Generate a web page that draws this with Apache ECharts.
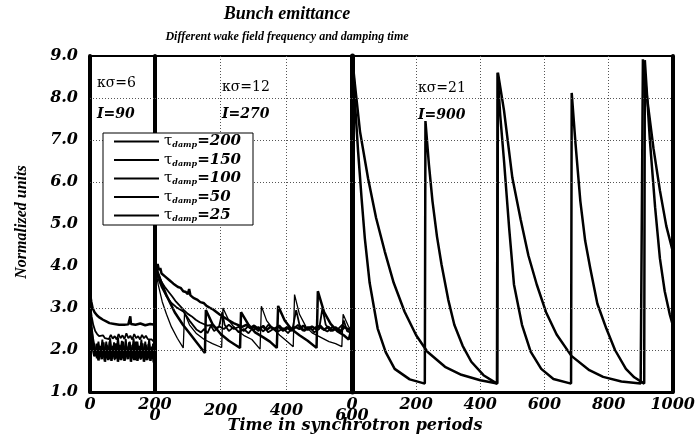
<!DOCTYPE html>
<html><head><meta charset="utf-8">
<script src="https://cdn.jsdelivr.net/npm/echarts@6/dist/echarts.min.js"></script>
<style>html,body{margin:0;padding:0;background:#fff}#c{width:698px;height:441px}</style>
</head><body><div id="c"></div>
<script>
// ---- data ----
const tauNames = ['200', '150', '100', '50', '25'];
const panelMax = [200, 600, 1000];
const panelTicks = [200, 200, 200];
const gridValues = [2, 3, 6, 7, 8];

// Panel 1: kσ=6, I=90
const p1_200 = [[0,3.35],[4,3.15],[8,3.0],[14,2.9],[22,2.82],[30,2.77],[40,2.72],[50,2.68],[60,2.64],[75,2.62],[90,2.6],[105,2.6],[118,2.61],[122,2.63],[124,2.8],[126,2.62],[140,2.6],[155,2.63],[170,2.59],[185,2.62],[200,2.6]];
const p1_150 = [[0,3.1],[5,2.8],[10,2.6],[16,2.45],[22,2.38],[28,2.33],[34,2.3],[40,2.35],[46,2.28],[52,2.32],[58,2.26],[64,2.36],[70,2.27],[76,2.33],[82,2.25],[88,2.38],[94,2.28],[100,2.35],[106,2.26],[112,2.4],[118,2.28],[124,2.34],[130,2.25],[136,2.38],[142,2.28],[148,2.33],[154,2.25],[160,2.36],[166,2.28],[172,2.34],[178,2.26],[184,2.3],[190,2.25],[196,2.2],[200,2.15]];
const p1_100 = [[0,3.05],[5,2.55],[10,2.25],[15,2.05],[20,1.9],[26,2.2],[32,1.85],[38,2.25],[44,1.82],[50,2.2],[56,1.8],[62,2.28],[68,1.84],[74,2.18],[80,1.8],[86,2.3],[92,1.85],[98,2.22],[104,1.8],[110,2.26],[116,1.83],[122,2.2],[128,1.8],[134,2.28],[140,1.85],[146,2.2],[152,1.82],[158,2.25],[164,1.8],[170,2.2],[176,1.84],[182,2.26],[188,1.8],[194,2.15],[200,1.75]];
const p1_50 = [[0,2.95],[4,2.5],[8,2.2],[12,2.0],[16,1.85],[21,2.15],[26,1.75],[31,2.1],[36,1.78],[41,2.18],[46,1.72],[51,2.12],[56,1.76],[61,2.2],[66,1.74],[71,2.1],[76,1.78],[81,2.16],[86,1.72],[91,2.12],[96,1.76],[101,2.2],[106,1.74],[111,2.1],[116,1.78],[121,2.18],[126,1.72],[131,2.12],[136,1.76],[141,2.2],[146,1.74],[151,2.1],[156,1.78],[161,2.16],[166,1.72],[171,2.12],[176,1.76],[181,2.14],[186,1.74],[191,2.08],[196,1.72],[200,1.68]];
const p1_25 = [[0,2.9],[3,2.45],[6,2.15],[9,1.95],[12,1.85],[16,2.05],[20,1.8],[24,2.08],[28,1.78],[32,2.02],[36,1.8],[40,2.1],[44,1.76],[48,2.04],[52,1.8],[56,2.08],[60,1.78],[64,2.02],[68,1.8],[72,2.1],[76,1.76],[80,2.05],[84,1.79],[88,2.08],[92,1.77],[96,2.03],[100,1.8],[104,2.1],[108,1.76],[112,2.04],[116,1.8],[120,2.08],[124,1.78],[128,2.02],[132,1.8],[136,2.1],[140,1.76],[144,2.05],[148,1.79],[152,2.08],[156,1.77],[160,2.03],[164,1.8],[168,2.1],[172,1.76],[176,2.04],[180,1.8],[184,2.06],[188,1.78],[192,2.0],[196,1.75],[200,1.7]];

// Panel 2: kσ=12, I=270
const p2_200 = [[0,4.1],[4,3.95],[8,4.05],[12,3.9],[16,3.95],[20,3.82],[26,3.85],[32,3.74],[38,3.76],[44,3.66],[50,3.64],[56,3.58],[62,3.6],[70,3.5],[78,3.48],[86,3.4],[94,3.38],[100,3.33],[104,3.45],[108,3.3],[117,3.24],[128,3.2],[138,3.14],[148,3.12],[157,3.05],[168,3.0],[178,2.96],[188,2.9],[198,2.84],[210,2.78],[222,2.72],[239,2.64],[252,2.6],[265,2.55],[278,2.6],[290,2.52],[302,2.58],[315,2.5],[328,2.56],[340,2.48],[352,2.55],[365,2.5],[378,2.58],[390,2.48],[402,2.54],[415,2.46],[428,2.55],[440,2.5],[452,2.58],[465,2.48],[478,2.56],[490,2.5],[503,2.58],[515,2.48],[528,2.55],[540,2.46],[553,2.52],[565,2.45],[578,2.55],[590,2.48],[600,2.5]];
const p2_150 = [[0,4.05],[6,3.85],[12,3.78],[20,3.62],[30,3.5],[40,3.4],[52,3.28],[64,3.15],[76,3.05],[88,2.95],[100,2.86],[112,2.8],[124,2.72],[136,2.66],[148,2.62],[160,2.58],[172,2.6],[184,2.52],[196,2.56],[210,2.5],[225,2.6],[240,2.5],[255,2.55],[270,2.45],[285,2.58],[300,2.48],[315,2.55],[330,2.44],[345,2.6],[360,2.5],[375,2.56],[390,2.45],[405,2.52],[420,2.48],[435,2.6],[450,2.46],[465,2.55],[480,2.48],[495,2.58],[510,2.5],[525,2.44],[540,2.55],[555,2.48],[570,2.6],[585,2.5],[600,2.52]];
const p2_100 = [[0,4.0],[10,3.7],[20,3.5],[35,3.28],[50,3.12],[65,3.02],[86,2.92],[105,2.7],[127,2.48],[140,2.42],[150,2.5],[160,2.4],[170,2.58],[180,2.45],[195,2.55],[205,2.9],[212,2.6],[225,2.45],[240,2.55],[255,2.42],[270,2.5],[285,2.4],[300,2.55],[315,2.45],[330,2.58],[345,2.42],[360,2.5],[375,2.44],[390,2.52],[405,2.4],[420,2.55],[430,2.95],[440,2.6],[455,2.45],[470,2.55],[485,2.42],[500,2.5],[510,3.0],[520,2.6],[535,2.45],[550,2.55],[565,2.4],[575,2.7],[585,2.45],[600,2.4]];
const p2_50 = [[0,4.05],[15,3.7],[35,3.3],[60,2.9],[85,2.6],[110,2.35],[130,2.15],[152,1.93],[155,2.95],[175,2.62],[200,2.38],[225,2.22],[245,2.12],[259,2.05],[262,2.9],[285,2.6],[305,2.42],[330,2.3],[350,2.2],[371,2.05],[375,3.05],[395,2.7],[415,2.5],[440,2.35],[465,2.22],[492,2.05],[496,3.4],[515,2.9],[535,2.62],[555,2.45],[575,2.35],[590,2.25],[600,2.55]];
const p2_25 = [[0,4.0],[10,3.55],[22,3.15],[35,2.85],[50,2.55],[68,2.28],[86,2.05],[90,2.88],[105,2.6],[125,2.4],[150,2.25],[175,2.15],[203,2.06],[207,3.0],[225,2.7],[245,2.5],[270,2.35],[295,2.25],[320,2.02],[324,3.04],[340,2.7],[360,2.5],[380,2.35],[400,2.22],[421,2.08],[425,3.32],[440,2.85],[460,2.55],[480,2.4],[505,2.3],[530,2.2],[550,2.15],[569,2.08],[573,2.85],[590,2.55],[600,2.45]];

// Panel 3: kσ=21, I=900
const p3_200 = [[0,9.0],[9,8.33],[25,7.2],[50,6.09],[75,5.15],[102,4.35],[130,3.6],[164,2.91],[200,2.35],[235,1.96],[290,1.6],[341,1.41],[400,1.28],[453,1.2],[455,8.6],[474,7.7],[500,6.1],[526,5.1],[550,4.25],[576,3.56],[605,2.9],[638,2.37],[684,1.86],[740,1.52],[783,1.36],[840,1.25],[900,1.2],[907,8.92],[920,8.0],[940,6.8],[960,5.8],[980,4.95],[1000,4.35]];
const p3_50 = [[0,9.0],[3,8.88],[10,7.8],[19,6.73],[30,5.6],[40,4.66],[55,3.6],[80,2.51],[105,1.95],[133,1.55],[180,1.3],[227,1.2],[229,7.45],[240,6.4],[251,5.54],[265,4.7],[279,4.04],[300,3.2],[319,2.6],[345,2.1],[372,1.72],[410,1.4],[452,1.2],[454,8.6],[462,7.6],[474,6.5],[490,4.9],[505,3.56],[530,2.6],[557,1.96],[590,1.55],[628,1.31],[683,1.2],[685,8.12],[697,6.9],[712,5.54],[727,4.6],[743,3.94],[765,3.1],[793,2.51],[820,2.0],[854,1.55],[880,1.35],[911,1.2],[913,8.9],[929,6.97],[945,5.4],[960,4.18],[975,3.4],[991,2.84],[1000,2.6]];

const panelData = [
  {'200': p1_200, '150': p1_150, '100': p1_100, '50': p1_50, '25': p1_25},
  {'200': p2_200, '150': p2_150, '100': p2_100, '50': p2_50, '25': p2_25},
  {'200': p3_200, '50': p3_50}
];

// ---- styles ----
const lineWidths = {'200': 2.5, '150': 1.8, '100': 1.8, '50': 2.5, '25': 1.3};
const numFont = '"DejaVu Serif"';
const gridPos = [
  {left: 90, width: 65},
  {left: 155, width: 197},
  {left: 352, width: 323}
];
const TOP = 56, HEIGHT = 336;

const grids = gridPos.map(g => ({left: g.left, width: g.width, top: TOP, height: HEIGHT,
  show: true, borderColor: '#000', borderWidth: 2, backgroundColor: 'transparent'}));

const xAxes = panelMax.map((mx, i) => ({
  type: 'value', gridIndex: i, min: 0, max: mx, interval: panelTicks[i],
  axisLine: {show: true, onZero: false, lineStyle: {color: '#000', width: 3}},
  axisTick: {show: false},
  splitLine: {show: true, lineStyle: {color: '#555', type: [1, 2], width: 1}},
  axisLabel: i === 1 ? {
    margin: 11,
    formatter: v => (v === 0 || v === 600) ? '{low|' + v + '}' : '{mid|' + v + '}',
    rich: {
      low: {fontFamily: numFont, fontWeight: 'bold', fontStyle: 'italic', fontSize: 16, color: '#000', padding: [5, 0, 0, 0]},
      mid: {fontFamily: numFont, fontWeight: 'bold', fontStyle: 'italic', fontSize: 16, color: '#000'}
    }
  } : {
    margin: 5, color: '#000', fontFamily: numFont, fontWeight: 'bold', fontStyle: 'italic', fontSize: 16,
    showMinLabel: true, showMaxLabel: true, formatter: v => String(v)
  }
}));

const yBase = {type: 'value', min: 1, max: 9, interval: 1, splitLine: {show: false}, axisTick: {show: false}};
const yAxes = [
  Object.assign({}, yBase, {gridIndex: 0, axisLine: {show: true, lineStyle: {color: '#000', width: 4}},
    axisLabel: {margin: 12, color: '#000', fontFamily: numFont, fontWeight: 'bold', fontStyle: 'italic', fontSize: 16,
      formatter: v => v.toFixed(1)}}),
  Object.assign({}, yBase, {gridIndex: 1, axisLine: {show: true, lineStyle: {color: '#000', width: 4}}, axisLabel: {show: false}}),
  Object.assign({}, yBase, {gridIndex: 2, axisLine: {show: true, lineStyle: {color: '#000', width: 5}}, axisLabel: {show: false}}),
  Object.assign({}, yBase, {gridIndex: 2, position: 'right', axisLine: {show: true, lineStyle: {color: '#000', width: 4}}, axisLabel: {show: false}})
];

const series = [];
panelData.forEach((pd, p) => {
  let first = true;
  tauNames.forEach(name => {
    if (!pd[name]) return;
    const s = {
      type: 'line', name: name, xAxisIndex: p, yAxisIndex: p, data: pd[name],
      symbol: 'none', showSymbol: false, clip: true,
      lineStyle: {color: '#000', width: lineWidths[name]}, itemStyle: {color: '#000'},
      z: 3
    };
    if (first) {
      s.markLine = {silent: true, symbol: 'none', label: {show: false},
        lineStyle: {color: '#555', type: [1, 2], width: 1},
        data: gridValues.map(v => ({yAxis: v}))};
      first = false;
    }
    series.push(s);
  });
});

const txt = (text, x, y, font, align, extra) => Object.assign({
  type: 'text', x: x, y: y, z: 10,
  style: {text: text, font: font, fill: '#000', align: align || 'center', verticalAlign: 'middle'}
}, extra || {});

const option = {
  animation: false,
  backgroundColor: '#fff',
  grid: grids,
  xAxis: xAxes,
  yAxis: yAxes,
  series: series,
  legend: {
    data: tauNames, orient: 'vertical', left: 103, top: 133,
    backgroundColor: '#fff', borderColor: '#000', borderWidth: 1,
    padding: [1, 12, 2, 10], itemWidth: 45, itemHeight: 16, itemGap: 3.5,
    selectedMode: false, z: 20,
    itemStyle: {opacity: 0},
    formatter: n => '{t|τ}{s|damp}{v|=' + n + '}',
    textStyle: {
      color: '#000',
      rich: {
        t: {fontFamily: '"DejaVu Serif"', fontSize: 15, color: '#000', lineHeight: 16},
        s: {fontFamily: '"DejaVu Serif"', fontSize: 8, fontWeight: 'bold', fontStyle: 'italic', color: '#000', padding: [7, 0, 0, 0], lineHeight: 9},
        v: {fontFamily: '"DejaVu Serif"', fontSize: 15, fontWeight: 'bold', fontStyle: 'italic', color: '#000', lineHeight: 16}
      }
    }
  },
  graphic: [
    txt('Bunch emittance', 287, 14, 'bold italic 18px "Liberation Serif"'),
    txt('Different wake field frequency and damping time', 287, 37, 'bold italic 12px "Liberation Serif"'),
    txt('Time in synchrotron periods', 355, 426, 'bold italic 16px "DejaVu Serif"'),
    txt('Normalized units', 22, 222, 'bold italic 16px "Liberation Serif"', 'center', {rotation: Math.PI / 2}),
    txt('κσ=6', 97, 83, '14px "DejaVu Serif"', 'left'),
    txt('I=90', 97, 114, 'bold italic 14px "DejaVu Serif"', 'left'),
    txt('κσ=12', 222, 87, '14px "DejaVu Serif"', 'left'),
    txt('I=270', 222, 114, 'bold italic 14px "DejaVu Serif"', 'left'),
    txt('κσ=21', 418, 88, '14px "DejaVu Serif"', 'left'),
    txt('I=900', 418, 115, 'bold italic 14px "DejaVu Serif"', 'left')
  ]
};

const chart = echarts.init(document.getElementById('c'), null, {renderer: 'canvas'});
chart.setOption(option);
</script>
</body></html>
